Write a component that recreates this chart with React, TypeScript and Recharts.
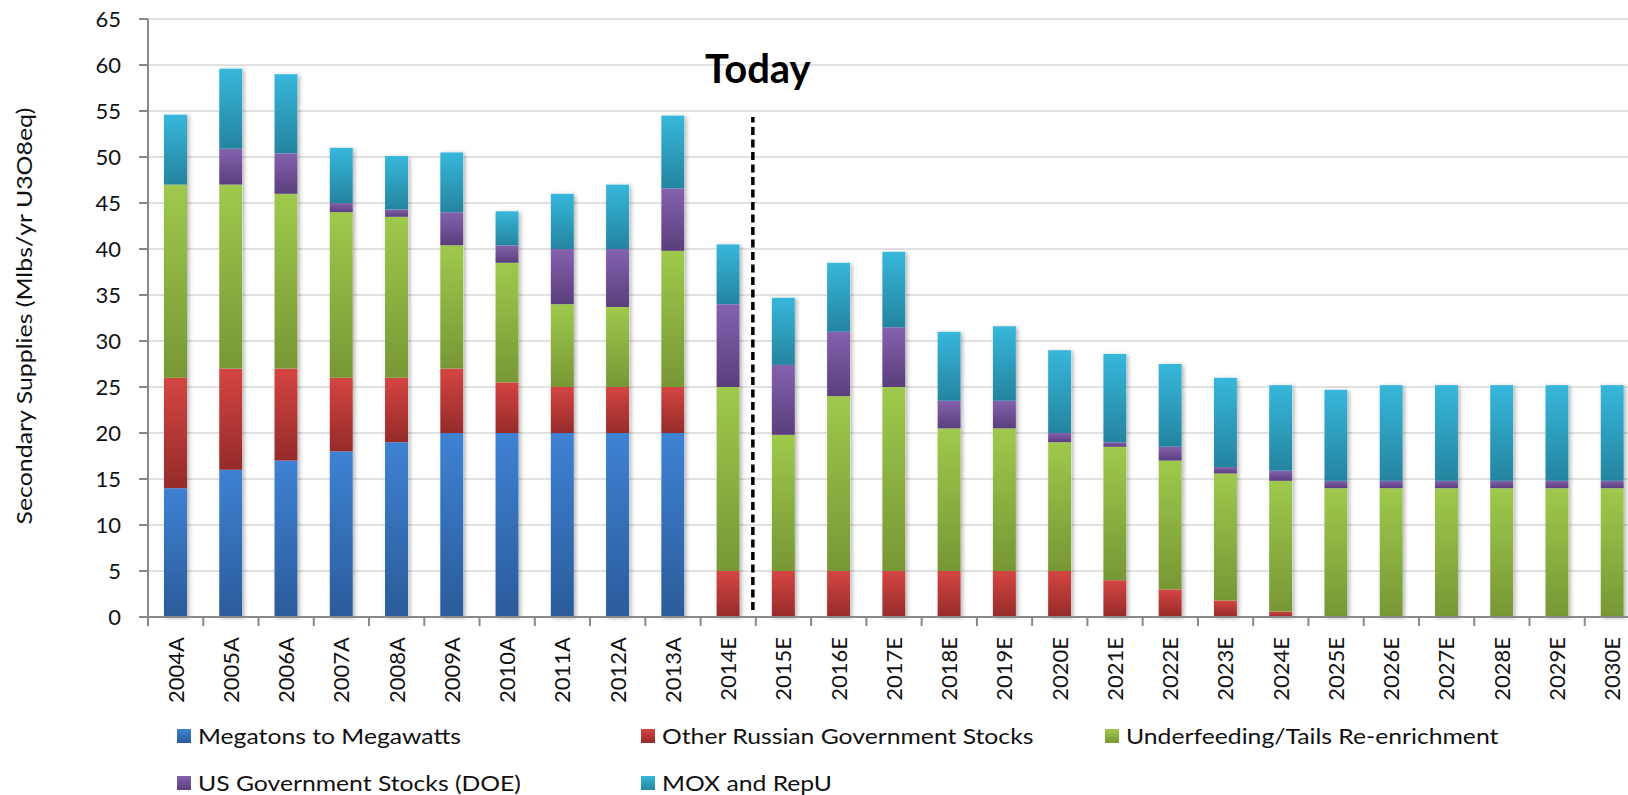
import { Bar, BarChart, CartesianGrid, Legend, ReferenceLine, XAxis, YAxis } from "recharts";

// categories
const years = [
  "2004A", "2005A", "2006A", "2007A", "2008A", "2009A", "2010A", "2011A", "2012A", "2013A",
  "2014E", "2015E", "2016E", "2017E", "2018E", "2019E", "2020E", "2021E", "2022E", "2023E",
  "2024E", "2025E", "2026E", "2027E", "2028E", "2029E", "2030E",
];

// Mlbs/yr U3O8eq, per segment
const megatons = [14, 16, 17, 18, 19, 20, 20, 20, 20, 20, 0, 0, 0, 0, 0, 0, 0, 0, 0, 0, 0, 0, 0, 0, 0, 0, 0];
const otherRussian = [12, 11, 10, 8, 7, 7, 5.5, 5, 5, 5, 5, 5, 5, 5, 5, 5, 5, 4, 3, 1.8, 0.6, 0, 0, 0, 0, 0, 0];
const underfeeding = [21, 20, 19, 18, 17.5, 13.4, 13, 9, 8.7, 14.8, 20, 14.8, 19, 20, 15.5, 15.5, 14, 14.5, 14, 13.8, 14.2, 14, 14, 14, 14, 14, 14];
const usDoe = [0, 3.9, 4.4, 1, 0.8, 3.6, 1.9, 6, 6.3, 6.8, 9, 7.6, 7, 6.5, 3, 3, 1, 0.5, 1.5, 0.7, 1.1, 0.8, 0.8, 0.8, 0.8, 0.8, 0.8];
const moxRepu = [7.6, 8.7, 8.6, 6, 5.8, 6.5, 3.7, 6, 7, 7.9, 6.5, 7.3, 7.5, 8.2, 7.5, 8.1, 9, 9.6, 9, 9.7, 9.3, 9.9, 10.4, 10.4, 10.4, 10.4, 10.4];

const yTicks = [0, 5, 10, 15, 20, 25, 30, 35, 40, 45, 50, 55, 60, 65];

const todayYear = "2014E";
const todayLineBottom = 0.76;
const todayLineTop = 54.35;

const seriesKeys = ["megatons", "otherRussian", "underfeeding", "usDoe", "moxRepu"];
const seriesNames: Record<string, string> = {
  megatons: "Megatons to Megawatts",
  otherRussian: "Other Russian Government Stocks",
  underfeeding: "Underfeeding/Tails Re-enrichment",
  usDoe: "US Government Stocks (DOE)",
  moxRepu: "MOX and RepU",
};

const gradients: Record<string, [string, string]> = {
  megatons: ["#3e82d3", "#2b5b9a"],
  otherRussian: ["#d44542", "#952b2a"],
  underfeeding: ["#9fc94c", "#779735"],
  usDoe: ["#8462ae", "#5a3e7c"],
  moxRepu: ["#37b7db", "#24849f"],
};

const data = years.map((year, i) => ({
  year,
  megatons: megatons[i],
  otherRussian: otherRussian[i],
  underfeeding: underfeeding[i],
  usDoe: usDoe[i],
  moxRepu: moxRepu[i],
  total: megatons[i] + otherRussian[i] + underfeeding[i] + usDoe[i] + moxRepu[i],
}));

const AXIS_GREY = "#898989";
const TEXT = "#111";
const X_TICK_GAP = 20;
const LEGEND_COLS = [177, 641, 1105];
const LEGEND_ROWS = [14, 61];

type ShapeProps = { x?: number; y?: number; width?: number; height?: number; fill?: string };

function Segment({ x, y, width, height, fill }: ShapeProps) {
  if (typeof x !== "number" || typeof y !== "number" || !width || !height || height <= 0) return null;
  return <rect x={x} y={y} width={width} height={height} fill={fill} />;
}

function ShadowBar({ x, y, width, height }: ShapeProps) {
  if (typeof x !== "number" || typeof y !== "number" || !width || !height || height <= 0) return null;
  return <rect x={x} y={y} width={width} height={height} fill="#fff" filter="url(#barShadow)" />;
}

function YearTick(props: any) {
  const { x, y, payload, width, visibleTicksCount } = props;
  const half = typeof payload?.offset === "number" && payload.offset > 0 ? payload.offset : width / visibleTicksCount / 2;
  const axisY = y - X_TICK_GAP;
  return (
    <g>
      <line x1={x - half} x2={x - half} y1={axisY} y2={axisY + 9} stroke={AXIS_GREY} strokeWidth={2} />
      <text x={x} y={y} transform={`rotate(-90 ${x} ${y})`} textAnchor="end" dy="0.36em" fontSize={22} fill={TEXT}>
        {payload.value}
      </text>
    </g>
  );
}

function YAxisTitle(props: any) {
  const vb = props.viewBox ?? { x: 0, y: 19, width: 148, height: 598 };
  const cx = vb.x + 24;
  const cy = vb.y + vb.height / 2 - 2;
  return (
    <text
      x={cx}
      y={cy}
      transform={`rotate(-90 ${cx} ${cy})`}
      textAnchor="middle"
      dy="0.35em"
      fontSize={22}
      fill={TEXT}
      textLength={417}
      lengthAdjust="spacingAndGlyphs"
    >
      Secondary Supplies (Mlbs/yr U3O8eq)
    </text>
  );
}

function TodayMarker(props: any) {
  const { x1, y1, x2, y2 } = props;
  const lx = x1 - 3;
  const top = Math.min(y1, y2);
  return (
    <g>
      <line x1={lx} x2={x2 - 3} y1={y1} y2={y2} stroke="#000" strokeWidth={3.5} strokeDasharray="8 4.5" />
      <text x={lx + 5} y={top - 34} textAnchor="middle" fontSize={40} fontWeight={700} fill="#000">
        Today
      </text>
    </g>
  );
}

function SupplyLegend({ payload }: any) {
  const items = (payload ?? []).filter((item: any) => seriesKeys.includes(item.dataKey));
  return (
    <svg width={1628} height={80} style={{ display: "block" }}>
      {items.map((item: any, i: number) => {
        const x = LEGEND_COLS[i % 3];
        const y = LEGEND_ROWS[Math.floor(i / 3)];
        return (
          <g key={item.dataKey}>
            <rect x={x} y={y} width={14} height={14} fill={`url(#grad-${item.dataKey})`} />
            <text transform={`translate(${x + 21} ${y + 14.5}) scale(1.15 1)`} fontSize={21.5} fill={TEXT}>
              {item.value}
            </text>
          </g>
        );
      })}
    </svg>
  );
}

export default function App() {
  return (
    <div
      style={{
        position: "fixed",
        left: 0,
        top: 0,
        width: 1628,
        height: 795,
        overflow: "hidden",
        background: "#fff",
        fontFamily: "Lato, 'Open Sans', sans-serif",
      }}
    >
      <svg style={{ position: "absolute", width: 0, height: 0 }}>
        <defs>
          {seriesKeys.map((key) => (
            <linearGradient key={key} id={`grad-${key}`} x1="0" y1="0" x2="0" y2="1">
              <stop offset="0%" stopColor={gradients[key][0]} />
              <stop offset="100%" stopColor={gradients[key][1]} />
            </linearGradient>
          ))}
          <filter id="barShadow" x="-50%" y="-10%" width="200%" height="120%">
            <feDropShadow dx="2" dy="1" stdDeviation="2" floodColor="#000" floodOpacity="0.3" />
          </filter>
        </defs>
      </svg>
      <BarChart width={1650} height={795} data={data} margin={{ top: 19, right: 10, bottom: 0, left: 0 }} barSize={23}>
        <CartesianGrid vertical={false} stroke="#d9d9d9" strokeWidth={1.5} />
        <XAxis
          dataKey="year"
          interval={0}
          height={178}
          tickSize={0}
          tickMargin={X_TICK_GAP}
          tick={<YearTick />}
          axisLine={{ stroke: AXIS_GREY, strokeWidth: 2 }}
          tickLine={false}
        />
        <XAxis xAxisId="shadow" dataKey="year" hide />
        <YAxis
          width={148}
          domain={[0, 65]}
          ticks={yTicks}
          interval={0}
          tickSize={9}
          tickMargin={18}
          tick={{ fontSize: 22, fill: TEXT }}
          axisLine={{ stroke: AXIS_GREY, strokeWidth: 2 }}
          tickLine={{ stroke: AXIS_GREY, strokeWidth: 2 }}
          label={{ content: YAxisTitle }}
        />
        <Bar
          xAxisId="shadow"
          dataKey="total"
          legendType="none"
          isAnimationActive={false}
          shape={(p: ShapeProps) => <ShadowBar {...p} />}
        />
        {seriesKeys.map((key) => (
          <Bar
            key={key}
            dataKey={key}
            name={seriesNames[key]}
            stackId="supply"
            fill={`url(#grad-${key})`}
            isAnimationActive={false}
            shape={(p: ShapeProps) => <Segment {...p} />}
          />
        ))}
        <ReferenceLine
          segment={[
            { x: todayYear, y: todayLineBottom },
            { x: todayYear, y: todayLineTop },
          ]}
          position="end"
          shape={(p: any) => <TodayMarker {...p} />}
        />
        <Legend
          layout="horizontal"
          verticalAlign="middle"
          align="center"
          itemSorter={(item: any) => seriesKeys.indexOf(item.dataKey)}
          wrapperStyle={{ top: 715, left: 0, width: 1628, height: 80 }}
          content={<SupplyLegend />}
        />
      </BarChart>
    </div>
  );
}
